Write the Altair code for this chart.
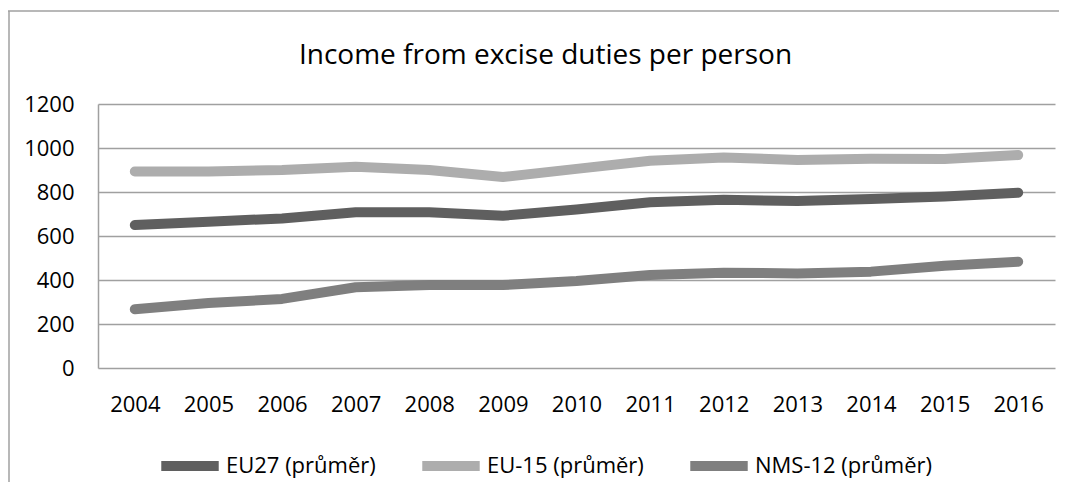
import altair as alt
import pandas as pd

years = ["2004", "2005", "2006", "2007", "2008", "2009", "2010",
         "2011", "2012", "2013", "2014", "2015", "2016"]
eu27 = [650, 665, 680, 708, 708, 692, 720, 753, 765, 759, 768, 780, 797]
eu15 = [893, 893, 900, 915, 900, 868, 905, 942, 957, 946, 951, 950, 968]
nms12 = [267, 295, 314, 367, 377, 377, 395, 423, 433, 430, 438, 465, 483]
series = ["EU27 (průměr)", "EU-15 (průměr)", "NMS-12 (průměr)"]
colors = ["#5f5f5f", "#adadad", "#7f7f7f"]
y_ticks = [0, 200, 400, 600, 800, 1000, 1200]

rows = []
for name, vals in zip(series, [eu27, eu15, nms12]):
    for yr, v in zip(years, vals):
        rows.append({"year": yr, "value": v, "series": name})
df = pd.DataFrame(rows)

FONT = "Open Sans"

lines = alt.Chart(df).mark_line(
    strokeWidth=10, strokeCap="round", strokeJoin="round"
).encode(
    x=alt.X("year:O", sort=years,
            scale=alt.Scale(type="point", padding=0.5),
            axis=alt.Axis(title=None, labelAngle=0, domain=False, ticks=False,
                          grid=False, labelFont=FONT, labelFontSize=22,
                          labelColor="#000000", labelPadding=26)),
    y=alt.Y("value:Q", scale=alt.Scale(domain=[0, 1200], nice=False),
            axis=alt.Axis(title=None, values=y_ticks, format="d", domain=True,
                          domainColor="#a0a0a0", domainWidth=1.5, ticks=False,
                          grid=True, gridColor="#a0a0a0", gridWidth=1.5,
                          labelFont=FONT, labelFontSize=22, labelColor="#000000",
                          labelPadding=24)),
    color=alt.Color("series:N", sort=series,
                    scale=alt.Scale(domain=series, range=colors),
                    legend=alt.Legend(title=None, orient="none",
                                      direction="horizontal",
                                      legendX=58, legendY=328,
                                      symbolType="stroke", symbolStrokeWidth=10,
                                      symbolSize=3300, labelFont=FONT,
                                      labelFontSize=22, labelColor="#000000",
                                      labelLimit=400,
                                      labelOffset=2, columnPadding=26)),
)

frame = pd.DataFrame({"a": [0]})
border_top = alt.Chart(frame).mark_rule(
    color="#a0a0a0", strokeWidth=1.5
).encode(x=alt.value(-92), x2=alt.value(969), y=alt.value(-93), y2=alt.value(-93))
border_left = alt.Chart(frame).mark_rule(
    color="#a0a0a0", strokeWidth=1.5
).encode(x=alt.value(-89), x2=alt.value(-89), y=alt.value(-93), y2=alt.value(390))

chart = alt.layer(border_top, border_left, lines).properties(
    width=957, height=264,
    autosize=alt.AutoSizeParams(type="none"),
    padding={"left": 90, "top": 96, "right": 4, "bottom": 114},
    title=alt.TitleParams("Income from excise duties per person", font=FONT,
                          fontSize=28, fontWeight="normal", color="#000000",
                          anchor="middle", dx=-31, offset=0, dy=60),
).configure_view(stroke=None)

chart.save("out.html", embed_options={"renderer": "svg", "actions": False})
